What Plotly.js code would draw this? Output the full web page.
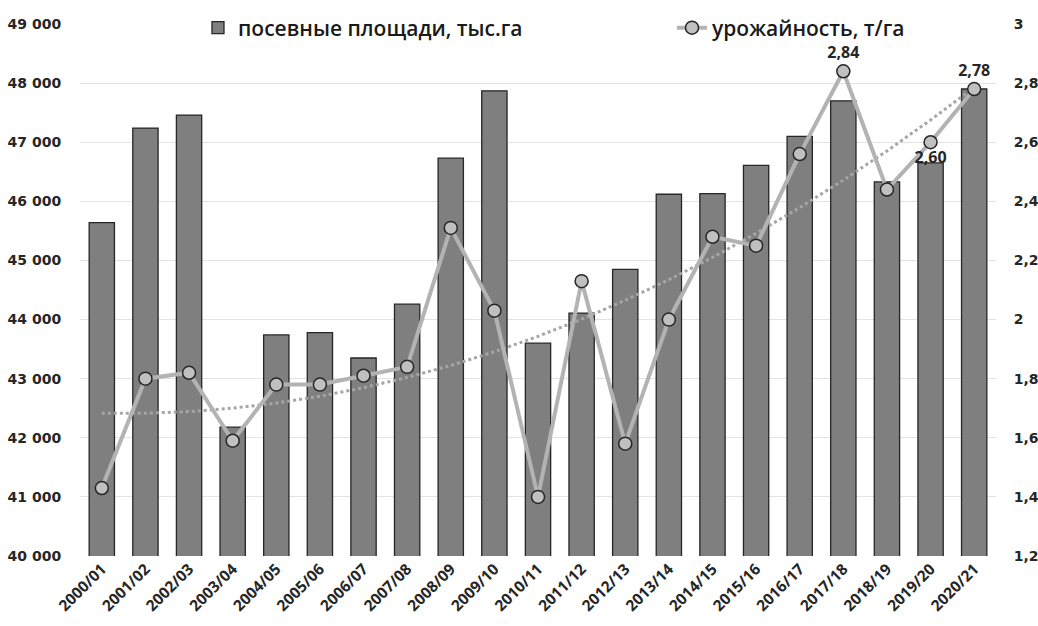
<!DOCTYPE html>
<html>
<head>
<meta charset="utf-8">
<script src="https://cdn.plot.ly/plotly-3.0.1.min.js"></script>
<style>html,body{margin:0;padding:0;background:#fff;}#chart{width:1038px;height:626px;}</style>
</head>
<body>
<div id="chart"></div>
<script>
// ---- data ----
const seasons = ["2000/01","2001/02","2002/03","2003/04","2004/05","2005/06","2006/07","2007/08","2008/09","2009/10","2010/11","2011/12","2012/13","2013/14","2014/15","2015/16","2016/17","2017/18","2018/19","2019/20","2020/21"];
const sownArea = [45640,47240,47460,42180,43740,43780,43350,44260,46730,47870,43600,44110,44850,46120,46130,46610,47100,47700,46330,46650,47900];
const yieldTHa = [1.43,1.80,1.82,1.59,1.78,1.78,1.81,1.84,2.31,2.03,1.40,2.13,1.58,2.00,2.28,2.25,2.56,2.84,2.44,2.60,2.78];
const labeledSeasons = ["2017/18","2019/20","2020/21"];
const labelPositions = {"2017/18":"top center","2019/20":"bottom center","2020/21":"top center"};
const leftTicks = [40000,41000,42000,43000,44000,45000,46000,47000,48000,49000];
const rightTicks = [1.2,1.4,1.6,1.8,2,2.2,2.4,2.6,2.8,3];
const seriesNames = ["посевные площади, тыс.га","урожайность, т/га"];

// polynomial (order 2) trend of yield, least squares
function polyTrend(ys){
  const xs = ys.map((_,i)=>i);
  let S=[0,0,0,0,0], T=[0,0,0];
  xs.forEach((x,i)=>{ for(let k=0;k<5;k++) S[k]+=Math.pow(x,k); for(let k=0;k<3;k++) T[k]+=ys[i]*Math.pow(x,k); });
  const A=[[S[0],S[1],S[2],T[0]],[S[1],S[2],S[3],T[1]],[S[2],S[3],S[4],T[2]]];
  for(let i=0;i<3;i++){ for(let j=i+1;j<3;j++){ const f=A[j][i]/A[i][i]; for(let k=i;k<4;k++) A[j][k]-=f*A[i][k]; } }
  const c=[0,0,0];
  for(let i=2;i>=0;i--){ let s=A[i][3]; for(let k=i+1;k<3;k++) s-=A[i][k]*c[k]; c[i]=s/A[i][i]; }
  return xs.map(x=>c[0]+c[1]*x+c[2]*x*x);
}
const trend = polyTrend(yieldTHa);
const labels = seasons.map((s,i)=> labeledSeasons.includes(s) ? yieldTHa[i].toFixed(2).replace('.',',') : '');
const positions = seasons.map(s=> labelPositions[s] || 'top center');

const legendFont = {family:'Open Sans, sans-serif', size:21, color:'#1a1a1a', weight:600};

const traces = [
  {type:'bar', x:seasons, y:sownArea, name:seriesNames[0], legend:'legend',
   marker:{color:'#7f7f7f', line:{color:'#262626', width:1.3}}, yaxis:'y'},
  {type:'scatter', mode:'lines', x:seasons, y:trend, yaxis:'y2', showlegend:false,
   line:{color:'#a6a6a6', width:3, dash:'dot'}, hoverinfo:'skip'},
  {type:'scatter', mode:'lines+markers+text', x:seasons, y:yieldTHa, yaxis:'y2', name:seriesNames[1], legend:'legend2',
   text:labels, textposition:positions, cliponaxis:false,
   textfont:{family:'Open Sans, sans-serif', size:16, color:'#262626', weight:700},
   line:{color:'#b3b3b3', width:4},
   marker:{symbol:'circle', size:13, color:'#c0c0c0', line:{color:'#262626', width:1.5}}}
];

const layout = {
  width:1038, height:626,
  margin:{l:80, r:42, t:24, b:70, autoexpand:false},
  paper_bgcolor:'#ffffff', plot_bgcolor:'#ffffff',
  separators:', ',
  bargap:0.42,
  showlegend:true,
  legend:{orientation:'h', x:0.1288, xanchor:'left', y:0.9925, yanchor:'middle',
    bgcolor:'rgba(255,255,255,0)', font:legendFont},
  legend2:{orientation:'h', x:0.6463, xanchor:'left', y:0.9925, yanchor:'middle',
    bgcolor:'rgba(255,255,255,0)', font:legendFont},
  xaxis:{type:'category', range:[-0.5, seasons.length-0.5], tickangle:-45, showgrid:false, zeroline:false, showline:false, automargin:false,
    ticks:'', tickfont:{family:'Open Sans, sans-serif', size:15.5, color:'#262626', weight:700}},
  yaxis:{range:[40000,49000], tickvals:leftTicks, tickformat:',d', showgrid:true, gridcolor:'#e3e3e3', gridwidth:1,
    zeroline:false, showline:false, ticks:'outside', ticklen:15, tickcolor:'rgba(0,0,0,0)', automargin:false,
    tickfont:{family:'DejaVu Sans, sans-serif', size:14, color:'#262626', weight:700}},
  yaxis2:{range:[1.2,3], tickvals:rightTicks, overlaying:'y', side:'right', showgrid:false, zeroline:false,
    showline:false, ticks:'outside', ticklen:14, tickcolor:'rgba(0,0,0,0)', automargin:false,
    tickfont:{family:'DejaVu Sans, sans-serif', size:14, color:'#262626', weight:700}}
};

Plotly.newPlot('chart', traces, layout, {displayModeBar:false, staticPlot:true});
</script>
</body>
</html>
